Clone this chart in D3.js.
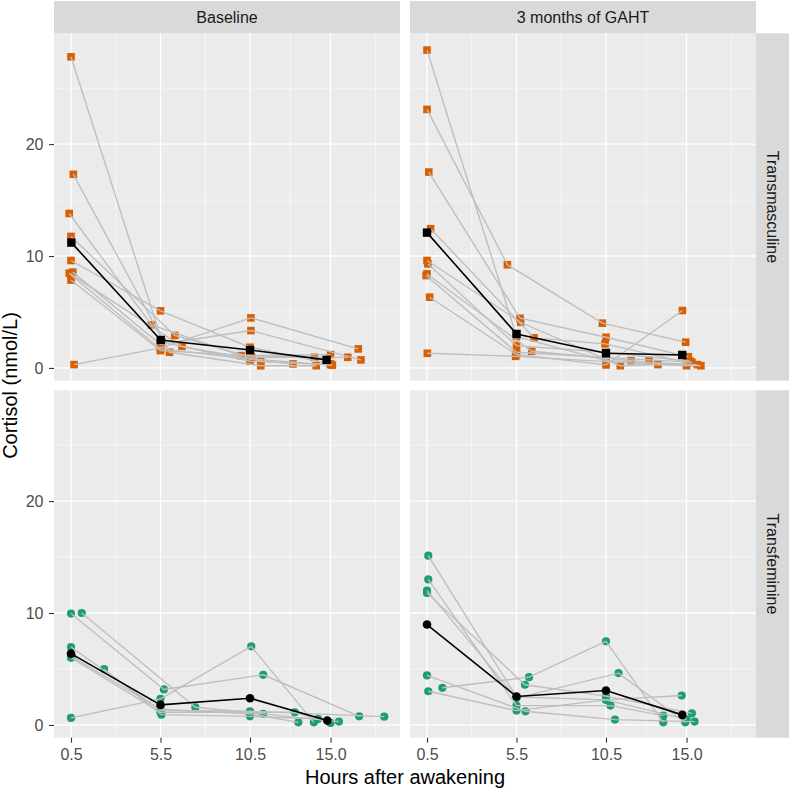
<!DOCTYPE html>
<html><head><meta charset="utf-8">
<script src="https://cdn.jsdelivr.net/npm/d3@7"></script>
<style>body{margin:0;background:#fff}svg{display:block;font-family:"Liberation Sans",Arial,sans-serif}</style>
</head><body><svg id="c" width="790" height="790"></svg>
<script>
const colLabels = ["Baseline", "3 months of GAHT"];
const rowLabels = ["Transmasculine", "Transfeminine"];
const xBreaks = [0.5, 5.5, 10.5, 15.0];
const xBreakLabels = ["0.5", "5.5", "10.5", "15.0"];
const xMinor = [3, 8, 12.75, 17.5];
const yBreaks = [0, 10, 20];
const yBreakLabels = ["0", "10", "20"];
const yMinor = [5, 15, 25];
const xTitle = "Hours after awakening";
const yTitle = "Cortisol (nmol/L)";
const groupColors = ["#D95F02", "#1B9E77"];

// each subject: four samples as [hours after awakening, cortisol nmol/L]
const tmBaseline = [
  [[0.5, 27.8], [5.6, 2.3], [10.5, 0.6], [15.0, 0.3]],
  [[0.63, 17.3], [6.0, 1.4], [11.1, 0.2], [14.2, 0.2]],
  [[0.4, 13.8], [5.0, 3.85], [10.0, 1.1], [15.0, 1.19]],
  [[0.5, 11.75], [6.3, 2.9], [10.6, 0.95], [15.96, 0.95]],
  [[0.5, 9.6], [5.5, 5.1], [10.5, 1.85], [15.0, 0.36]],
  [[0.6, 8.56], [5.5, 2.1], [10.55, 3.34], [16.7, 0.72]],
  [[0.4, 8.47], [6.7, 1.93], [11.1, 0.65], [12.9, 0.36]],
  [[0.5, 7.85], [5.5, 1.55], [10.5, 1.1], [14.1, 0.95]],
  [[0.67, 0.3], [5.5, 1.8], [10.55, 4.47], [16.55, 1.7]],
  [[0.5, 8.3], [5.5, 1.7], [10.5, 0.8], [15.1, 0.25]]
];
const tmGaht = [
  [[0.5, 28.4], [5.5, 2.8], [10.5, 0.65], [15.6, 0.3]],
  [[0.5, 23.1], [4.99, 9.22], [10.3, 4.0], [14.95, 2.3]],
  [[0.6, 17.5], [5.7, 4.44], [10.5, 2.74], [15.1, 1.0]],
  [[0.7, 12.44], [6.48, 2.69], [10.45, 2.15], [15.0, 0.5]],
  [[0.5, 9.6], [5.73, 4.08], [11.3, 0.2], [15.0, 0.4]],
  [[0.55, 9.3], [5.5, 2.0], [10.5, 1.4], [15.2, 0.6]],
  [[0.5, 8.4], [6.35, 1.49], [11.9, 0.65], [15.0, 0.2]],
  [[0.45, 8.26], [5.5, 1.4], [12.9, 0.72], [15.3, 0.5]],
  [[0.65, 6.32], [5.5, 1.2], [10.5, 0.27], [14.77, 5.13]],
  [[0.52, 1.31], [5.45, 1.04], [13.4, 0.3], [15.8, 0.2]]
];
const tfBaseline = [
  [[0.5, 9.95], [5.69, 3.17], [11.24, 4.48], [16.6, 0.77]],
  [[1.1, 10.0], [7.45, 1.58], [11.24, 0.99], [15.47, 0.3]],
  [[0.5, 6.96], [5.5, 1.3], [10.5, 1.22], [18.0, 0.74]],
  [[2.35, 5.0], [5.55, 0.92], [10.5, 0.77], [14.3, 0.54]],
  [[0.5, 6.0], [5.5, 1.13], [13.0, 1.13], [15.0, 0.18]],
  [[0.55, 6.1], [5.5, 1.4], [10.5, 1.0], [13.2, 0.23]],
  [[0.5, 0.63], [5.5, 2.33], [10.57, 7.02], [14.07, 0.23]]
];
const tfGaht = [
  [[0.57, 15.12], [5.5, 2.5], [10.5, 2.24], [15.0, 0.5]],
  [[0.57, 13.0], [5.5, 1.73], [10.75, 1.73], [13.7, 0.83]],
  [[0.5, 12.0], [5.5, 2.4], [11.2, 4.63], [14.93, 0.23]],
  [[0.5, 11.8], [5.97, 3.59], [10.5, 2.57], [15.3, 1.04]],
  [[0.5, 4.42], [6.0, 1.22], [11.0, 0.48], [15.45, 0.3]],
  [[0.57, 3.01], [5.5, 1.28], [10.5, 2.24], [14.73, 2.63]],
  [[1.36, 3.32], [6.2, 4.27], [10.5, 7.47], [13.7, 0.23]]
];
const tmBaselineMean = [[0.52, 11.2], [5.51, 2.5], [10.5, 1.6], [14.78, 0.72]];
const tmGahtMean = [[0.5, 12.09], [5.5, 3.04], [10.5, 1.31], [14.76, 1.16]];
const tfBaselineMean = [[0.5, 6.37], [5.5, 1.79], [10.5, 2.39], [14.82, 0.39]];
const tfGahtMean = [[0.5, 8.97], [5.5, 2.54], [10.5, 3.08], [14.76, 0.9]];

const panels = [
  {row: 0, col: 0, subjects: tmBaseline, mean: tmBaselineMean},
  {row: 0, col: 1, subjects: tmGaht, mean: tmGahtMean},
  {row: 1, col: 0, subjects: tfBaseline, mean: tfBaselineMean},
  {row: 1, col: 1, subjects: tfGaht, mean: tfGahtMean}
];

const svg = d3.select("#c");
const colX = [54, 410], rowY = [33.3, 390.3];
const PW = 346, PH = 347.4;
const x = d3.scaleLinear().domain([-0.45, 18.88]).range([0, PW]);
const y = d3.scaleLinear().domain([-1.14, 29.9]).range([PH, 0]);
const line = d3.line().x(d => x(d[0])).y(d => y(d[1]));

panels.forEach(p => {
  const g = svg.append("g").attr("transform", `translate(${colX[p.col]},${rowY[p.row]})`);
  g.append("rect").attr("width", PW).attr("height", PH).attr("fill", "#EBEBEB");
  g.selectAll(".ymin").data(yMinor).join("line").attr("x1", 0).attr("x2", PW)
    .attr("y1", d => y(d)).attr("y2", d => y(d)).attr("stroke", "#fff").attr("stroke-width", 0.6);
  g.selectAll(".xmin").data(xMinor).join("line").attr("y1", 0).attr("y2", PH)
    .attr("x1", d => x(d)).attr("x2", d => x(d)).attr("stroke", "#fff").attr("stroke-width", 0.6);
  g.selectAll(".ymaj").data(yBreaks).join("line").attr("x1", 0).attr("x2", PW)
    .attr("y1", d => y(d)).attr("y2", d => y(d)).attr("stroke", "#fff").attr("stroke-width", 1.3);
  g.selectAll(".xmaj").data(xBreaks).join("line").attr("y1", 0).attr("y2", PH)
    .attr("x1", d => x(d)).attr("x2", d => x(d)).attr("stroke", "#fff").attr("stroke-width", 1.3);

  const color = groupColors[p.row];
  const pts = p.subjects.flat();
  if (p.row === 0) {
    g.selectAll(".pt").data(pts).join("rect")
      .attr("x", d => x(d[0]) - 3.8).attr("y", d => y(d[1]) - 3.8)
      .attr("width", 7.6).attr("height", 7.6).attr("fill", color);
  } else {
    g.selectAll(".pt").data(pts).join("circle")
      .attr("cx", d => x(d[0])).attr("cy", d => y(d[1])).attr("r", 4.1).attr("fill", color);
  }
  g.selectAll(".subj").data(p.subjects).join("path").attr("d", line)
    .attr("fill", "none").attr("stroke", "#BEBEBE").attr("stroke-width", 1.35);
  g.append("path").attr("d", line(p.mean)).attr("fill", "none").attr("stroke", "#000").attr("stroke-width", 1.6);
  if (p.row === 0) {
    g.selectAll(".mp").data(p.mean).join("rect")
      .attr("x", d => x(d[0]) - 4.2).attr("y", d => y(d[1]) - 4.2)
      .attr("width", 8.4).attr("height", 8.4).attr("fill", "#000");
  } else {
    g.selectAll(".mp").data(p.mean).join("circle")
      .attr("cx", d => x(d[0])).attr("cy", d => y(d[1])).attr("r", 4.3).attr("fill", "#000");
  }

  if (p.col === 0) {
    const ax = g.append("g").call(d3.axisLeft(y).tickValues(yBreaks).tickFormat((d, i) => yBreakLabels[i])
      .tickSize(5).tickPadding(5.5));
    ax.select(".domain").remove();
    ax.selectAll("line").attr("stroke", "#333").attr("stroke-width", 1.1);
    ax.selectAll("text").attr("fill", "#4D4D4D").style("font-size", "16px").style("font-family", '"Liberation Sans",Arial,sans-serif');
  }
  if (p.row === 1) {
    const ax = g.append("g").attr("transform", `translate(0,${PH})`)
      .call(d3.axisBottom(x).tickValues(xBreaks).tickFormat((d, i) => xBreakLabels[i]).tickSize(5).tickPadding(6));
    ax.select(".domain").remove();
    ax.selectAll("line").attr("stroke", "#333").attr("stroke-width", 1.1);
    ax.selectAll("text").attr("fill", "#4D4D4D").style("font-size", "16px").style("font-family", '"Liberation Sans",Arial,sans-serif');
  }
});

colLabels.forEach((lab, i) => {
  svg.append("rect").attr("x", colX[i]).attr("y", 1).attr("width", PW).attr("height", 32.3).attr("fill", "#D9D9D9");
  svg.append("text").attr("x", colX[i] + PW / 2).attr("y", 17.3).attr("text-anchor", "middle")
    .attr("dominant-baseline", "central").attr("fill", "#1A1A1A").style("font-size", "16px").text(lab);
});
rowLabels.forEach((lab, i) => {
  svg.append("rect").attr("x", 756).attr("y", rowY[i]).attr("width", 33).attr("height", PH).attr("fill", "#D9D9D9");
  const cx = 772.5, cy = rowY[i] + PH / 2;
  svg.append("text").attr("transform", `translate(${cx},${cy}) rotate(90)`).attr("text-anchor", "middle")
    .attr("dominant-baseline", "central").attr("fill", "#1A1A1A").style("font-size", "16px").text(lab);
});
svg.append("text").attr("x", colX[0] + (colX[1] + PW - colX[0]) / 2).attr("y", 784).attr("text-anchor", "middle")
  .attr("fill", "#000").style("font-size", "20px").text(xTitle);
svg.append("text").attr("transform", `translate(17,${(rowY[0] + rowY[1] + PH) / 2}) rotate(-90)`).attr("text-anchor", "middle")
  .attr("fill", "#000").style("font-size", "20px").text(yTitle);
</script></body></html>
